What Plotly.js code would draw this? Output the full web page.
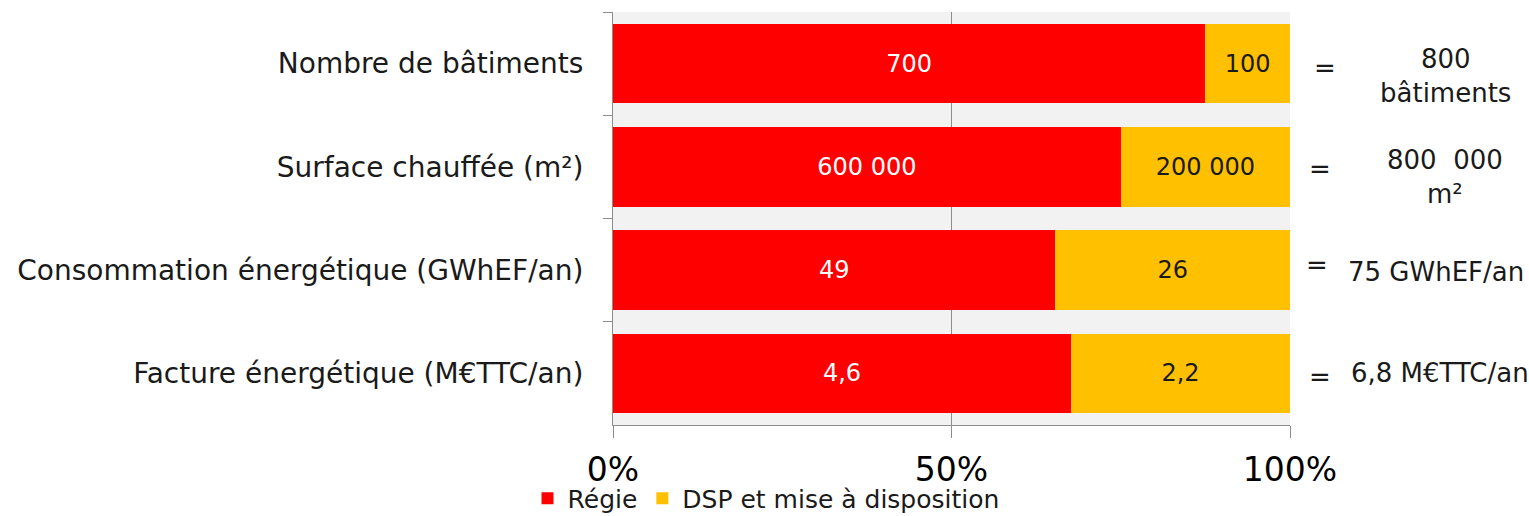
<!DOCTYPE html>
<html>
<head>
<meta charset="utf-8">
<script src="https://cdn.plot.ly/plotly-3.0.1.min.js"></script>
<style>
html,body{margin:0;padding:0;background:#fff;}
#chart{width:1529px;height:516px;}
</style>
</head>
<body>
<div id="chart"></div>
<script>
const categories = ["Nombre de bâtiments", "Surface chauffée (m²)", "Consommation énergétique (GWhEF/an)", "Facture énergétique (M€TTC/an)"];
const regieValues = [700, 600000, 49, 4.6];
const dspValues = [100, 200000, 26, 2.2];
const regieLabels = ["700", "600 000", "49", "4,6"];
const dspLabels = ["100", "200 000", "26", "2,2"];
const totalLabels = ["800<br>bâtiments", "800  000<br>m²", "75 GWhEF/an", "6,8 M€TTC/an"];
const seriesNames = ["Régie", "DSP et mise à disposition"];
const xTickValues = [0, 50, 100];
const xTickLabels = ["0%", "50%", "100%"];

const FONT = "DejaVu Sans, Verdana, sans-serif";

const traces = [
  {
    type: "bar", orientation: "h", name: seriesNames[0],
    y: categories, x: regieValues, text: regieLabels,
    textposition: "inside", insidetextanchor: "middle",
    textfont: {family: FONT, size: 24, color: "#ffffff"},
    marker: {color: "#ff0000"}, width: 0.77, hoverinfo: "skip"
  },
  {
    type: "bar", orientation: "h", name: seriesNames[1],
    y: categories, x: dspValues, text: dspLabels,
    textposition: "inside", insidetextanchor: "middle",
    textfont: {family: FONT, size: 24, color: "#1a1a1a"},
    marker: {color: "#ffc000"}, width: 0.77, hoverinfo: "skip"
  }
];

const eqX = [1.052, 1.045, 1.04, 1.045];
const eqShift = [-4, -2, 5, -4];
const totX = [1.229, 1.229, 1.215, 1.222];
const totShift = [-12, -10, -2, 0];

const annotations = [];
categories.forEach((c, i) => {
  annotations.push({
    xref: "paper", yref: "y", x: eqX[i], y: c, yshift: eqShift[i],
    xanchor: "center", yanchor: "middle",
    text: "=", showarrow: false,
    font: {family: FONT, size: 26, color: "#1a1a1a"}
  });
  annotations.push({
    xref: "paper", yref: "y", x: totX[i], y: c, yshift: totShift[i],
    xanchor: "center", yanchor: "middle",
    text: totalLabels[i], showarrow: false, align: "center",
    font: {family: FONT, size: 26, color: "#1a1a1a"}
  });
});

const layout = {
  width: 1529, height: 516,
  margin: {l: 613, r: 239, t: 12, b: 91, pad: 0, autoexpand: false},
  paper_bgcolor: "#ffffff",
  plot_bgcolor: "#f2f2f2",
  barmode: "stack",
  barnorm: "percent",
  showlegend: true,
  legend: {
    orientation: "h", x: 0.345, xanchor: "left", xref: "container",
    y: -0.122, yanchor: "top", yref: "paper",
    bgcolor: "rgba(0,0,0,0)",
    font: {family: FONT, size: 25, color: "#1a1a1a"},
    traceorder: "normal", itemwidth: 30
  },
  xaxis: {
    range: [0, 100], tickvals: xTickValues, ticktext: xTickLabels,
    showgrid: true, gridcolor: "#8c8c8c", gridwidth: 1,
    zeroline: false,
    showline: true, linecolor: "#8c8c8c", linewidth: 1,
    ticks: "outside", ticklen: 12, tickcolor: "#8c8c8c",
    ticklabelstandoff: 3,
    tickfont: {family: FONT, size: 33, color: "#000000"},
    fixedrange: true
  },
  yaxis: {
    type: "category", categoryorder: "array", categoryarray: categories,
    autorange: "reversed",
    showgrid: false, zeroline: false,
    showline: true, linecolor: "#8c8c8c", linewidth: 1,
    ticks: "outside", tickson: "boundaries", ticklen: 9, tickcolor: "#8c8c8c",
    ticklabelstandoff: 23,
    tickfont: {family: FONT, size: 28, color: "#1a1a1a"},
    fixedrange: true
  },
  annotations: annotations,
  font: {family: FONT}
};

Plotly.newPlot("chart", traces, layout, {displayModeBar: false, staticPlot: true});
</script>
</body>
</html>
